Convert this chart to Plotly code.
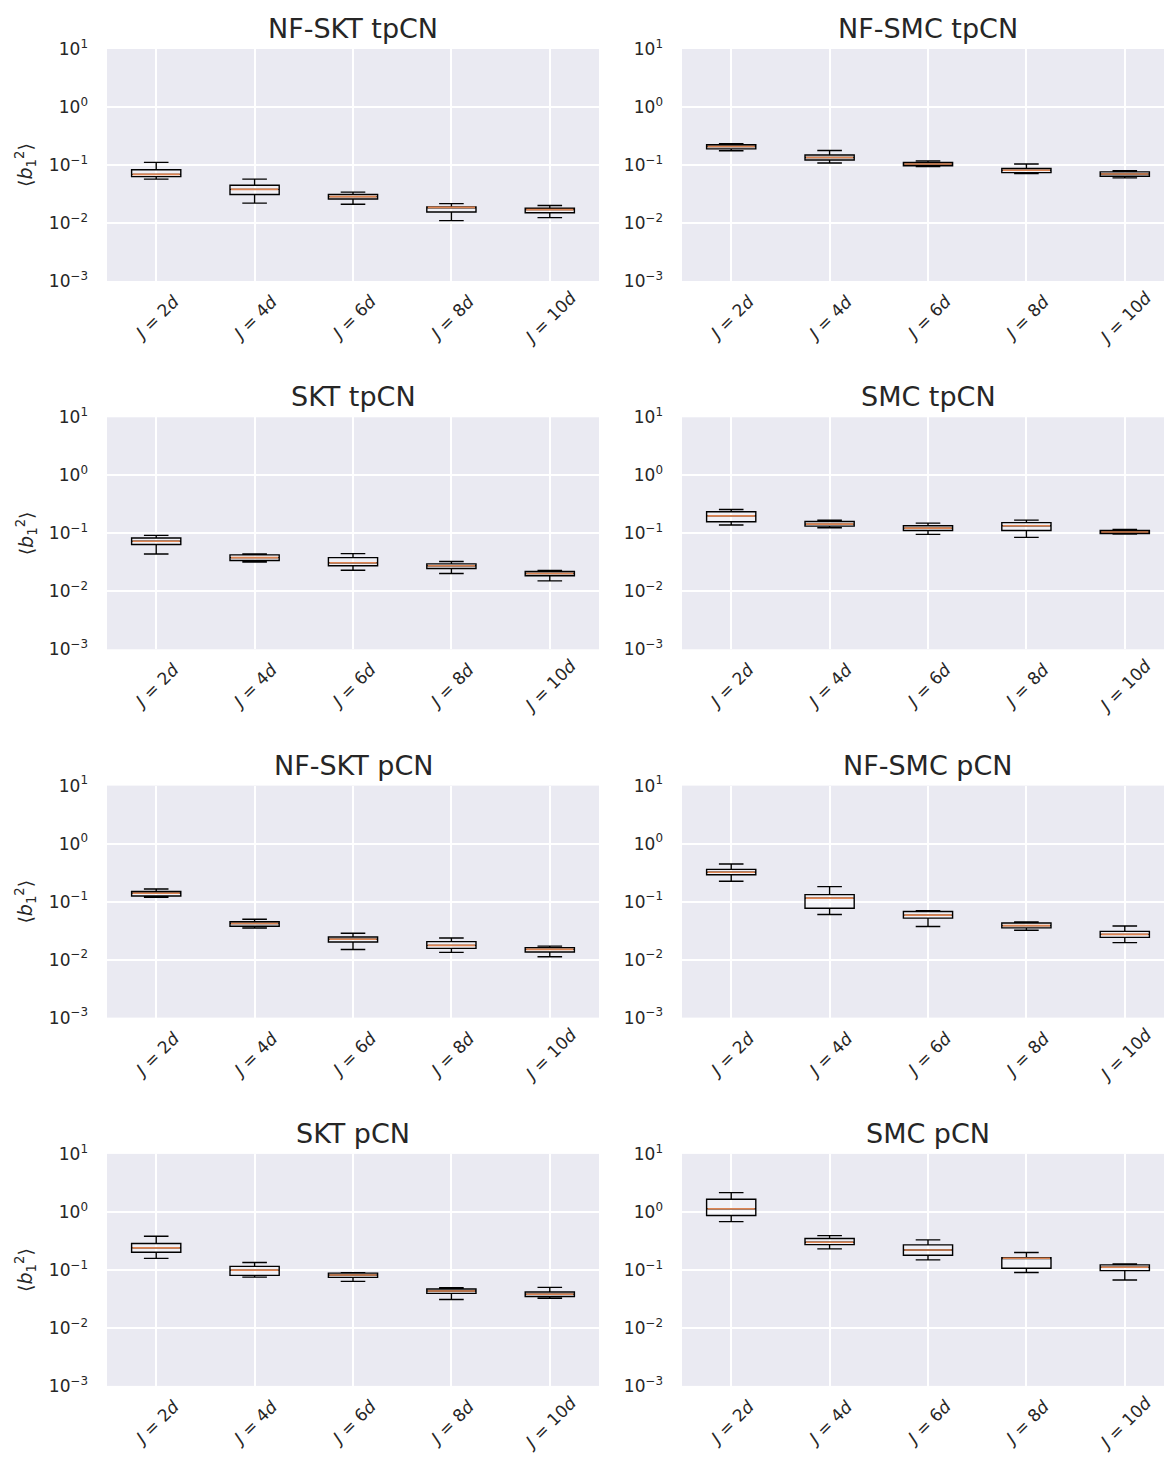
import plotly.graph_objects as go

# ---------------- data ----------------
categories = ["J = 2d", "J = 4d", "J = 6d", "J = 8d", "J = 10d"]
tick_labels_html = ["<i>J</i> = 2<i>d</i>", "<i>J</i> = 4<i>d</i>",
                    "<i>J</i> = 6<i>d</i>", "<i>J</i> = 8<i>d</i>",
                    "<i>J</i> = 10<i>d</i>"]
ytick_vals = [1e-3, 1e-2, 1e-1, 1e0, 1e1]
ytick_text = ["10<sup>\u22123</sup>", "10<sup>\u22122</sup>", "10<sup>\u22121</sup>",
              "10<sup>0</sup>", "10<sup>1</sup>"]

titles = ["NF-SKT tpCN", "NF-SMC tpCN", "SKT tpCN", "SMC tpCN",
          "NF-SKT pCN", "NF-SMC pCN", "SKT pCN", "SMC pCN"]

# each panel: lower whisker, q1, median, q3, upper whisker
nf_skt_tpcn_low = [0.057, 0.022, 0.021, 0.011, 0.0124]
nf_skt_tpcn_q1 = [0.063, 0.031, 0.026, 0.0155, 0.015]
nf_skt_tpcn_med = [0.069, 0.038, 0.0285, 0.0186, 0.017]
nf_skt_tpcn_q3 = [0.083, 0.0447, 0.031, 0.019, 0.018]
nf_skt_tpcn_high = [0.111, 0.057, 0.034, 0.0216, 0.020]

nf_smc_tpcn_low = [0.176, 0.108, 0.094, 0.071, 0.060]
nf_smc_tpcn_q1 = [0.19, 0.122, 0.097, 0.074, 0.064]
nf_smc_tpcn_med = [0.209, 0.135, 0.104, 0.081, 0.070]
nf_smc_tpcn_q3 = [0.223, 0.149, 0.111, 0.0875, 0.076]
nf_smc_tpcn_high = [0.232, 0.178, 0.118, 0.104, 0.080]

skt_tpcn_low = [0.044, 0.032, 0.023, 0.0203, 0.0151]
skt_tpcn_q1 = [0.064, 0.034, 0.0275, 0.0247, 0.0185]
skt_tpcn_med = [0.073, 0.038, 0.031, 0.0275, 0.0203]
skt_tpcn_q3 = [0.083, 0.0425, 0.038, 0.0297, 0.022]
skt_tpcn_high = [0.092, 0.044, 0.0446, 0.0326, 0.0229]

smc_tpcn_low = [0.139, 0.125, 0.096, 0.085, 0.0975]
smc_tpcn_q1 = [0.158, 0.133, 0.112, 0.112, 0.099]
smc_tpcn_med = [0.20, 0.144, 0.123, 0.135, 0.105]
smc_tpcn_q3 = [0.235, 0.16, 0.135, 0.153, 0.112]
smc_tpcn_high = [0.258, 0.169, 0.150, 0.169, 0.116]

nf_skt_pcn_low = [0.119, 0.035, 0.0149, 0.0133, 0.0112]
nf_skt_pcn_q1 = [0.125, 0.0375, 0.0201, 0.0156, 0.0135]
nf_skt_pcn_med = [0.139, 0.042, 0.0224, 0.0176, 0.015]
nf_skt_pcn_q3 = [0.149, 0.045, 0.0245, 0.0204, 0.0161]
nf_skt_pcn_high = [0.165, 0.0495, 0.0284, 0.0236, 0.0171]

nf_smc_pcn_low = [0.224, 0.060, 0.0372, 0.032, 0.0196]
nf_smc_pcn_q1 = [0.291, 0.077, 0.0519, 0.0352, 0.0242]
nf_smc_pcn_med = [0.32, 0.115, 0.0585, 0.0385, 0.0272]
nf_smc_pcn_q3 = [0.36, 0.132, 0.0674, 0.0428, 0.0307]
nf_smc_pcn_high = [0.445, 0.181, 0.070, 0.0446, 0.038]

skt_pcn_low = [0.158, 0.075, 0.0635, 0.0308, 0.0324]
skt_pcn_q1 = [0.202, 0.0805, 0.0743, 0.0394, 0.0347]
skt_pcn_med = [0.24, 0.099, 0.0815, 0.0432, 0.038]
skt_pcn_q3 = [0.285, 0.115, 0.088, 0.0468, 0.0417]
skt_pcn_high = [0.38, 0.134, 0.0895, 0.0494, 0.050]

smc_pcn_low = [0.68, 0.23, 0.149, 0.09, 0.067]
smc_pcn_q1 = [0.865, 0.273, 0.179, 0.107, 0.097]
smc_pcn_med = [1.13, 0.30, 0.221, 0.159, 0.111]
smc_pcn_q3 = [1.65, 0.347, 0.27, 0.163, 0.122]
smc_pcn_high = [2.15, 0.39, 0.33, 0.199, 0.127]

panels = [
    (nf_skt_tpcn_low, nf_skt_tpcn_q1, nf_skt_tpcn_med, nf_skt_tpcn_q3, nf_skt_tpcn_high),
    (nf_smc_tpcn_low, nf_smc_tpcn_q1, nf_smc_tpcn_med, nf_smc_tpcn_q3, nf_smc_tpcn_high),
    (skt_tpcn_low, skt_tpcn_q1, skt_tpcn_med, skt_tpcn_q3, skt_tpcn_high),
    (smc_tpcn_low, smc_tpcn_q1, smc_tpcn_med, smc_tpcn_q3, smc_tpcn_high),
    (nf_skt_pcn_low, nf_skt_pcn_q1, nf_skt_pcn_med, nf_skt_pcn_q3, nf_skt_pcn_high),
    (nf_smc_pcn_low, nf_smc_pcn_q1, nf_smc_pcn_med, nf_smc_pcn_q3, nf_smc_pcn_high),
    (skt_pcn_low, skt_pcn_q1, skt_pcn_med, skt_pcn_q3, skt_pcn_high),
    (smc_pcn_low, smc_pcn_q1, smc_pcn_med, smc_pcn_q3, smc_pcn_high),
]

# ---------------- layout ----------------
W, H = 1164, 1461
BG = "#EAEAF2"
TXT = "#262626"
MED = "#DD8452"
FONT = "DejaVu Sans"
box_w = 0.5
unit_px = 98.4
col_left = [107, 682]
row_top0, row_step, plot_h = 49, 368.3, 232

fig = go.Figure()
annotations = []
positions = list(range(1, len(categories) + 1))

for k, (title, (lo, q1, med, q3, hi)) in enumerate(zip(titles, panels)):
    r, c = divmod(k, 2)
    xa = "x" if k == 0 else f"x{k+1}"
    ya = "y" if k == 0 else f"y{k+1}"
    left = col_left[c]
    full_right = left + unit_px * 5
    right = min(full_right, W)
    top = row_top0 + row_step * r
    bottom = top + plot_h
    xr = [0.5, 0.5 + (right - left) / unit_px]

    fig.add_trace(go.Box(
        x=positions, q1=q1, median=med, q3=q3, lowerfence=lo, upperfence=hi,
        width=box_w, whiskerwidth=0.5, boxpoints=False,
        line=dict(color="black", width=1.4),
        fillcolor="rgba(255,255,255,0.3)",
        xaxis=xa, yaxis=ya, showlegend=False, hoverinfo="skip",
    ))
    mx, my = [], []
    for p, m in zip(positions, med):
        mx += [p - box_w / 2 + 0.01, p + box_w / 2 - 0.01, None]
        my += [m, m, None]
    fig.add_trace(go.Scatter(
        x=mx, y=my, mode="lines", line=dict(color=MED, width=1.6),
        xaxis=xa, yaxis=ya, showlegend=False, hoverinfo="skip",
    ))

    xkey = "xaxis" if k == 0 else f"xaxis{k+1}"
    ykey = "yaxis" if k == 0 else f"yaxis{k+1}"
    fig.update_layout(**{
        xkey: dict(domain=[left / W, right / W], range=xr, anchor=ya,
                   tickvals=positions, showticklabels=False, automargin=False,
                   showgrid=True, gridcolor="white", gridwidth=1.6,
                   zeroline=False, showline=False, ticks=""),
        ykey: dict(domain=[1 - bottom / H, 1 - top / H], type="log", range=[-3, 1],
                   anchor=xa, tickvals=ytick_vals, ticktext=ytick_text,
                   automargin=False,
                   showgrid=True, gridcolor="white", gridwidth=1.6,
                   zeroline=False, showline=False, ticks="",
                   ticklabelstandoff=18,
                   tickfont=dict(family=FONT, size=17, color=TXT)),
    })

    # title
    annotations.append(dict(
        x=((left + full_right) / 2) / W, y=1 - (top - 3) / H, xref="paper", yref="paper",
        text=title, showarrow=False, xanchor="center", yanchor="bottom",
        font=dict(family=FONT, size=27, color=TXT)))
    # x tick labels (rotated)
    for p, lab in zip(positions, tick_labels_html):
        annotations.append(dict(
            x=p, y=1 - (bottom + 37) / H, xref=xa, yref="paper",
            text=lab, showarrow=False, textangle=-45,
            xanchor="center", yanchor="middle",
            font=dict(family=FONT, size=17, color=TXT)))
    # y axis label
    if c == 0:
        annotations.append(dict(
            x=26 / W, y=1 - (top + plot_h / 2) / H, xref="paper", yref="paper",
            text="\u27e8<i>b</i><sub>1</sub><sup>2</sup>\u27e9", showarrow=False,
            textangle=-90, xanchor="center", yanchor="middle",
            font=dict(family=FONT, size=19, color=TXT)))

fig.update_layout(
    width=W, height=H, margin=dict(l=0, r=0, t=0, b=0, autoexpand=False),
    paper_bgcolor="white", plot_bgcolor=BG,
    font=dict(family=FONT, color=TXT),
    annotations=annotations, showlegend=False,
)

fig.write_html("out.html")
